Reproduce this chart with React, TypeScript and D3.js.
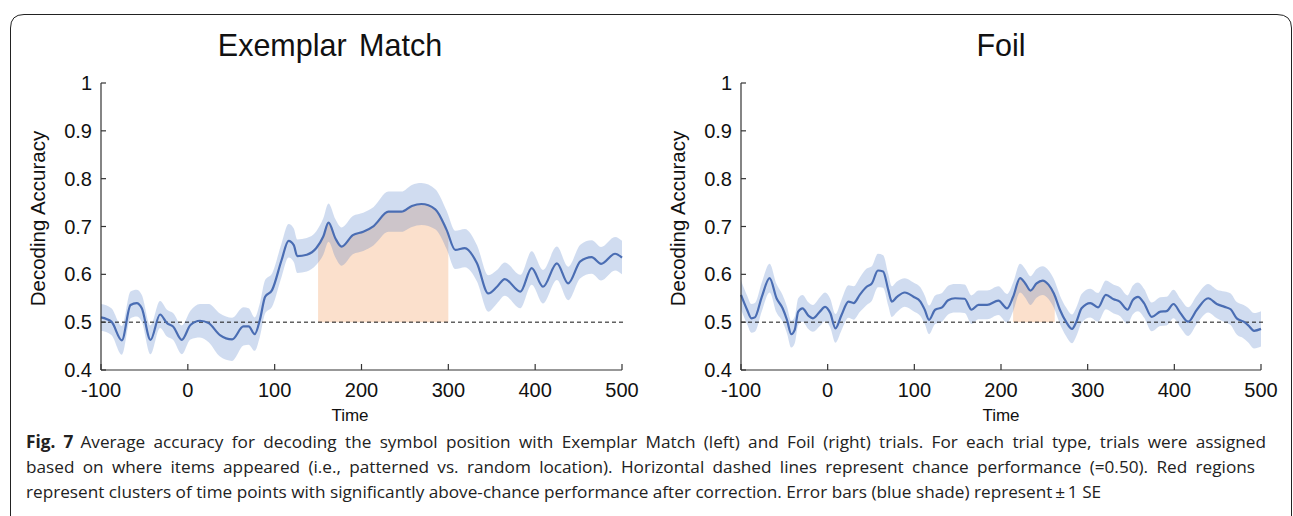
import React, { useLayoutEffect, useRef } from "react";
import * as d3 from "d3";

// ---------------- DATA ----------------
const X_TICKS = [-100, 0, 100, 200, 300, 400, 500];
const Y_TICKS = [0.4, 0.5, 0.6, 0.7, 0.8, 0.9, 1];
const CHANCE = 0.5;

const EM_TIME = [-100, -88, -76, -66, -59, -53, -43, -32, -24, -17, -7, 3, 14, 24, 37, 51, 64, 70, 77, 83, 89, 97, 108, 116, 122, 126, 137, 148, 156, 162, 170, 177, 190, 202, 214, 231, 246, 258, 269, 285, 298, 308, 319, 333, 346, 356, 365, 383, 396, 409, 425, 438, 452, 465, 476, 492, 500];
const EM_MEAN = [0.51, 0.501, 0.462, 0.536, 0.54, 0.529, 0.463, 0.516, 0.498, 0.491, 0.463, 0.494, 0.503, 0.498, 0.473, 0.464, 0.491, 0.491, 0.475, 0.505, 0.553, 0.567, 0.63, 0.67, 0.661, 0.638, 0.641, 0.655, 0.679, 0.708, 0.675, 0.658, 0.682, 0.689, 0.701, 0.731, 0.731, 0.743, 0.747, 0.736, 0.693, 0.651, 0.655, 0.623, 0.56, 0.574, 0.59, 0.564, 0.613, 0.574, 0.623, 0.581, 0.627, 0.636, 0.622, 0.643, 0.635];
const EM_SE = [0.028, 0.028, 0.03, 0.028, 0.028, 0.028, 0.03, 0.028, 0.028, 0.028, 0.03, 0.03, 0.035, 0.04, 0.045, 0.045, 0.04, 0.038, 0.035, 0.035, 0.035, 0.035, 0.035, 0.035, 0.035, 0.035, 0.035, 0.035, 0.038, 0.04, 0.04, 0.04, 0.04, 0.04, 0.04, 0.042, 0.042, 0.044, 0.044, 0.042, 0.04, 0.04, 0.04, 0.038, 0.038, 0.035, 0.035, 0.035, 0.035, 0.035, 0.035, 0.035, 0.035, 0.035, 0.035, 0.035, 0.035];
const EM_CLUSTER = [150, 300];

const FOIL_TIME = [-100, -93, -88, -84, -76, -67, -59, -52, -47, -42, -38, -34, -29, -22, -17, -9, -3, 3, 9, 16, 24, 30, 37, 45, 51, 58, 64, 70, 74, 80, 89, 99, 107, 112, 117, 124, 132, 139, 147, 158, 166, 174, 184, 197, 207, 214, 222, 228, 234, 241, 248, 255, 261, 268, 275, 282, 287, 293, 303, 312, 321, 330, 337, 346, 352, 358, 365, 374, 384, 391, 399, 407, 416, 426, 439, 449, 458, 465, 472, 480, 485, 492, 500];
const FOIL_MEAN = [0.557, 0.526, 0.508, 0.51, 0.553, 0.592, 0.55, 0.529, 0.505, 0.475, 0.484, 0.522, 0.529, 0.513, 0.508, 0.522, 0.532, 0.519, 0.487, 0.515, 0.543, 0.54, 0.557, 0.574, 0.581, 0.608, 0.606, 0.567, 0.543, 0.553, 0.562, 0.553, 0.543, 0.526, 0.505, 0.526, 0.531, 0.546, 0.55, 0.549, 0.526, 0.536, 0.536, 0.545, 0.529, 0.553, 0.592, 0.581, 0.566, 0.581, 0.587, 0.578, 0.56, 0.526, 0.501, 0.486, 0.501, 0.529, 0.54, 0.531, 0.557, 0.548, 0.543, 0.526, 0.546, 0.553, 0.54, 0.511, 0.522, 0.523, 0.538, 0.519, 0.501, 0.526, 0.55, 0.538, 0.532, 0.527, 0.508, 0.501, 0.494, 0.482, 0.486];
const FOIL_SE = [0.03, 0.03, 0.03, 0.03, 0.03, 0.03, 0.03, 0.028, 0.028, 0.028, 0.028, 0.028, 0.028, 0.028, 0.028, 0.03, 0.03, 0.03, 0.03, 0.032, 0.034, 0.035, 0.036, 0.038, 0.036, 0.035, 0.034, 0.033, 0.032, 0.032, 0.03, 0.03, 0.03, 0.03, 0.03, 0.03, 0.03, 0.03, 0.03, 0.03, 0.03, 0.03, 0.03, 0.03, 0.03, 0.03, 0.03, 0.03, 0.03, 0.03, 0.03, 0.03, 0.03, 0.03, 0.03, 0.03, 0.03, 0.03, 0.03, 0.03, 0.03, 0.03, 0.03, 0.03, 0.03, 0.03, 0.03, 0.03, 0.03, 0.03, 0.03, 0.03, 0.03, 0.03, 0.03, 0.03, 0.032, 0.033, 0.034, 0.035, 0.036, 0.037, 0.037];
const FOIL_CLUSTER = [214, 262];

const TITLES = ["Exemplar Match", "Foil"];
const Y_LABEL = "Decoding Accuracy";
const X_LABEL = "Time";

const CAPTION_LEAD = "Fig. 7";
const CAPTION_LINES = [
  "Average accuracy for decoding the symbol position with Exemplar Match (left) and Foil (right) trials. For each trial type, trials were assigned",
  "based on where items appeared (i.e., patterned vs. random location). Horizontal dashed lines represent chance performance (=0.50). Red regions",
  "represent clusters of time points with significantly above-chance performance after correction. Error bars (blue shade) represent\u2009\u00B1\u20091 SE",
];

// ---------------- STYLE ----------------
const FONT = "'Liberation Sans', Arial, sans-serif";
const CAP_FONT = "'Open Sans', 'Noto Sans', sans-serif";
const LINE_COLOR = "#4a6db3";
const BAND_COLOR = "rgb(68,114,196)";
const CLUSTER_COLOR = "rgb(251,224,204)";
const AXIS_COLOR = "#333";

type PanelProps = {
  id: string;
  left: number;
  right: number;
  title: string;
  titleX: number;
  labelX: number;
  time: number[];
  mean: number[];
  se: number[];
  cluster: number[];
};

function Panel({ id, left, right, title, titleX, labelX, time, mean, se, cluster }: PanelProps) {
  const top = 83;
  const bottom = 370;
  const x = d3.scaleLinear().domain([-100, 500]).range([left, right]);
  const y = d3.scaleLinear().domain([0.4, 1]).range([bottom, top]);
  const idx = time.map((_, i) => i);
  const curve = d3.curveMonotoneX;

  const band = d3
    .area<number>()
    .x((i) => x(time[i]))
    .y0((i) => y(mean[i] - se[i]))
    .y1((i) => y(mean[i] + se[i]))
    .curve(curve)(idx) as string;

  const clusterArea = d3
    .area<number>()
    .x((i) => x(time[i]))
    .y0(() => y(CHANCE))
    .y1((i) => y(mean[i]))
    .curve(curve)(idx) as string;

  const line = d3
    .line<number>()
    .x((i) => x(time[i]))
    .y((i) => y(mean[i]))
    .curve(curve)(idx) as string;

  const clipId = `clip-${id}`;

  return (
    <g>
      <defs>
        <clipPath id={clipId}>
          <rect x={x(cluster[0])} y={top} width={x(cluster[1]) - x(cluster[0])} height={bottom - top} />
        </clipPath>
      </defs>
      <text x={titleX} y={56} textAnchor="middle" fontFamily={FONT} fontSize={30.5} fill="#111" style={{ wordSpacing: "4px" }}>
        {title}
      </text>
      <path d={clusterArea} fill={CLUSTER_COLOR} clipPath={`url(#${clipId})`} />
      <path d={band} fill={BAND_COLOR} fillOpacity={0.25} />
      <line x1={left} x2={right + 3} y1={y(CHANCE)} y2={y(CHANCE)} stroke="#111" strokeWidth={1} strokeDasharray="4,3" />
      <path d={line} fill="none" stroke={LINE_COLOR} strokeWidth={2.2} strokeLinejoin="round" />
      <line x1={left} x2={left} y1={top} y2={bottom} stroke={AXIS_COLOR} strokeWidth={1.2} />
      <line x1={left} x2={right} y1={bottom} y2={bottom} stroke={AXIS_COLOR} strokeWidth={1.2} />
      {Y_TICKS.map((t) => (
        <g key={`y${t}`}>
          <line x1={left} x2={left + 5} y1={y(t)} y2={y(t)} stroke={AXIS_COLOR} strokeWidth={1.2} />
          <text x={left - 9} y={y(t) + 7} textAnchor="end" fontFamily={FONT} fontSize={20} fill="#111">
            {t === 1 ? "1" : t.toFixed(1)}
          </text>
        </g>
      ))}
      {X_TICKS.map((t) => (
        <g key={`x${t}`}>
          <line x1={x(t)} x2={x(t)} y1={bottom} y2={bottom - 6} stroke={AXIS_COLOR} strokeWidth={1.2} />
          <text x={x(t)} y={397} textAnchor="middle" fontFamily={FONT} fontSize={20} fill="#111">
            {t}
          </text>
        </g>
      ))}
      <text x={labelX} y={421} textAnchor="middle" fontFamily={FONT} fontSize={17} fill="#111">
        {X_LABEL}
      </text>
      <text
        transform={`translate(${left - 56},${(top + bottom) / 2 - 8}) rotate(-90)`}
        textAnchor="middle"
        fontFamily={FONT}
        fontSize={20.5}
        fill="#111"
      >
        {Y_LABEL}
      </text>
    </g>
  );
}

function Caption() {
  const capX = 26;
  const capBase = [448, 473, 498];
  // justified widths (px) for the first two lines; the last one keeps its natural width
  const targets = [1233, 1229, 0];
  const refs = useRef<(SVGTextElement | null)[]>([]);

  useLayoutEffect(() => {
    refs.current.forEach((el, i) => {
      if (!el || !targets[i]) return;
      el.style.wordSpacing = "0px";
      const w = el.getComputedTextLength();
      const txt = el.textContent || "";
      const n = (txt.match(/ /g) || []).length;
      const extra = (targets[i] - w) / Math.max(1, n);
      el.style.wordSpacing = `${extra}px`;
    });
  }, []);

  return (
    <g>
      {CAPTION_LINES.map((ln, i) => (
        <text
          key={i}
          ref={(el) => {
            refs.current[i] = el;
          }}
          x={capX}
          y={capBase[i]}
          fontFamily={CAP_FONT}
          fontSize={17.2}
          fill="#222"
        >
          {i === 0 ? (
            <>
              <tspan fontWeight="bold">{CAPTION_LEAD}</tspan>
              <tspan dx={7}>{ln}</tspan>
            </>
          ) : (
            ln
          )}
        </text>
      ))}
    </g>
  );
}

export default function App() {
  const W = 1293;
  const H = 516;
  return (
    <svg width={W} height={H} style={{ position: "absolute", left: 0, top: 0, background: "#fff" }}>
      <rect x={0} y={0} width={W} height={H} fill="#fff" />
      <path
        d={`M10.5,${H} L10.5,28 Q10.5,14.5 24,14.5 L1277,14.5 Q1291.5,14.5 1291.5,28 L1291.5,${H}`}
        fill="none"
        stroke="#222"
        strokeWidth={1}
      />
      <Panel id="em" left={101} right={622} title={TITLES[0]} titleX={330} labelX={350} time={EM_TIME} mean={EM_MEAN} se={EM_SE} cluster={EM_CLUSTER} />
      <Panel id="foil" left={741} right={1261} title={TITLES[1]} titleX={1001} labelX={1001} time={FOIL_TIME} mean={FOIL_MEAN} se={FOIL_SE} cluster={FOIL_CLUSTER} />
      <Caption />
    </svg>
  );
}
